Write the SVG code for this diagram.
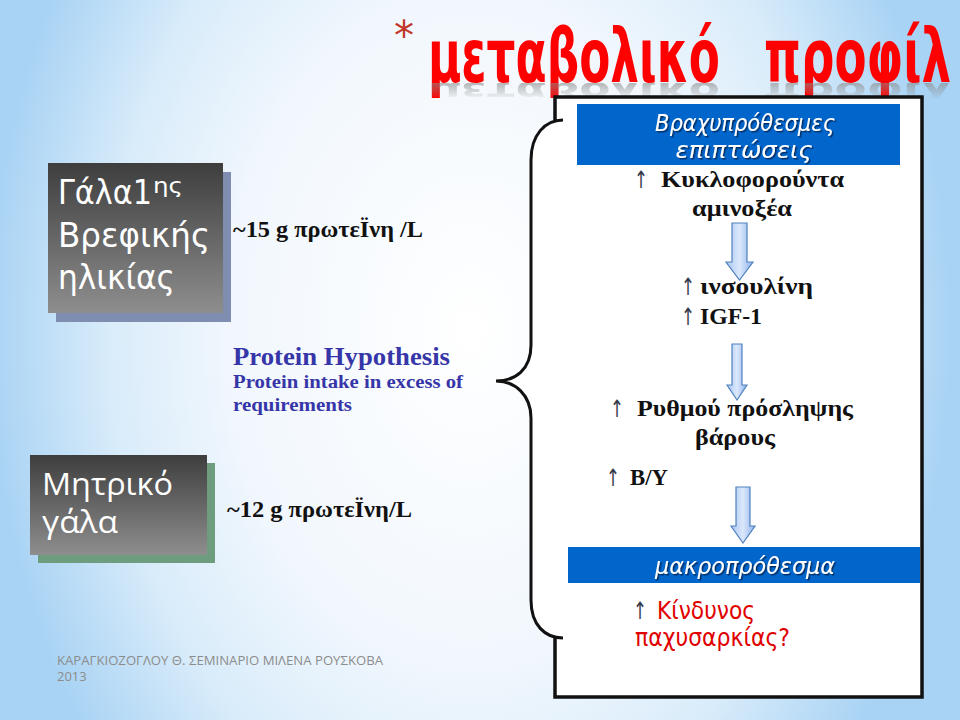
<svg xmlns="http://www.w3.org/2000/svg" width="960" height="720" viewBox="0 0 960 720">
<defs>
<radialGradient id="bg" gradientUnits="userSpaceOnUse" cx="470" cy="330" r="480" gradientTransform="translate(470 330) scale(1 1.4) translate(-470 -330)">
<stop offset="0" stop-color="#ffffff"/>
<stop offset="0.5" stop-color="#f1f7fd"/>
<stop offset="0.75" stop-color="#d9ecfa"/>
<stop offset="1" stop-color="#a9d3f4"/>
</radialGradient>
<linearGradient id="dark" x1="0" y1="0" x2="0" y2="1">
<stop offset="0" stop-color="#3e3e3e"/>
<stop offset="1" stop-color="#8e8e8e"/>
</linearGradient>
<linearGradient id="barrow" x1="0" y1="0" x2="1" y2="0">
<stop offset="0" stop-color="#a9c6f3"/>
<stop offset="0.5" stop-color="#dbe8fb"/>
<stop offset="1" stop-color="#8fb2ec"/>
</linearGradient>
<linearGradient id="reflfade" gradientUnits="userSpaceOnUse" x1="0" y1="83" x2="0" y2="100">
<stop offset="0" stop-color="#fff" stop-opacity="0.6"/>
<stop offset="1" stop-color="#fff" stop-opacity="0"/>
</linearGradient>
<mask id="reflmask" maskUnits="userSpaceOnUse" x="380" y="83" width="580" height="17">
<rect x="380" y="83" width="580" height="17" fill="url(#reflfade)"/>
</mask>
<filter id="tshadow" x="-10%" y="-20%" width="120%" height="150%">
<feDropShadow dx="1.5" dy="1.5" stdDeviation="0.6" flood-color="#002a5c" flood-opacity="0.9"/>
</filter>
</defs>
<style>
.serif{font-family:"Liberation Serif","DejaVu Serif",serif;font-weight:bold;fill:#111;}
.up{font-family:"DejaVu Sans",sans-serif;fill:#333848;}
.bar{fill:#0066cc;}
.bartxt{font-family:"DejaVu Sans",sans-serif;font-style:italic;fill:#fff;font-size:23px;text-anchor:middle;}
.ph{font-family:"Liberation Serif","DejaVu Serif",serif;font-weight:bold;fill:#3636a8;}
.blk{fill:url(#barrow);stroke:#4f81bd;stroke-width:1.2;}
.title{font-family:"DejaVu Sans",sans-serif;font-weight:bold;fill:#ff0000;}
.refl{font-family:"DejaVu Sans",sans-serif;font-weight:bold;fill:#8a8a8a;}
</style>

<rect x="0" y="0" width="960" height="720" fill="url(#bg)"/>

<g id="title">
<text x="394" y="50" font-family="DejaVu Sans, sans-serif" font-size="40" fill="#c0392b">*</text>
<text class="title" x="428" y="82" font-size="74" textLength="292" lengthAdjust="spacingAndGlyphs">μεταβολικό</text>
<text class="title" x="764" y="82" font-size="74" textLength="187" lengthAdjust="spacingAndGlyphs">προφίλ</text>
<g mask="url(#reflmask)">
<g transform="translate(0 111) scale(1 -0.35)">
<text class="refl" x="428" y="82" font-size="74" textLength="292" lengthAdjust="spacingAndGlyphs">μεταβολικό</text>
<text class="refl" x="764" y="82" font-size="74" textLength="187" lengthAdjust="spacingAndGlyphs">προφίλ</text>
</g>
</g>
</g>

<g id="node-gala1">
<rect x="56" y="172" width="175" height="150" fill="#7e8db0"/>
<rect x="48" y="163" width="175" height="150" fill="url(#dark)"/>
<text x="58" y="204" font-family="DejaVu Sans, sans-serif" font-size="34" fill="#fff" textLength="94" lengthAdjust="spacingAndGlyphs">Γάλα1</text>
<text x="153" y="193" font-family="DejaVu Sans, sans-serif" font-size="21" fill="#fff" textLength="30" lengthAdjust="spacingAndGlyphs">ης</text>
<text x="58" y="247" font-family="DejaVu Sans, sans-serif" font-size="34" fill="#fff" textLength="152" lengthAdjust="spacingAndGlyphs">Βρεφικής</text>
<text x="58" y="289" font-family="DejaVu Sans, sans-serif" font-size="34" fill="#fff" textLength="117" lengthAdjust="spacingAndGlyphs">ηλικίας</text>
</g>

<g id="node-mitriko">
<rect x="38" y="463" width="177" height="100" fill="#6e9c7e"/>
<rect x="30" y="455" width="177" height="100" fill="url(#dark)"/>
<text x="42" y="495" font-family="Open Sans, sans-serif" font-size="31" fill="#fff" textLength="131" lengthAdjust="spacingAndGlyphs">Μητρικό</text>
<text x="42" y="533" font-family="Open Sans, sans-serif" font-size="31" fill="#fff" textLength="76" lengthAdjust="spacingAndGlyphs">γάλα</text>
</g>

<g id="node-15g">
<text class="serif" x="233" y="237" font-size="23" textLength="190" lengthAdjust="spacingAndGlyphs">~15 g πρωτεΪνη /L</text>
</g>

<g id="node-hypothesis">
<text class="ph" x="233" y="365" font-size="25" textLength="217" lengthAdjust="spacingAndGlyphs">Protein Hypothesis</text>
<text class="ph" x="233" y="388" font-size="18" textLength="230" lengthAdjust="spacingAndGlyphs">Protein intake in excess of</text>
<text class="ph" x="233" y="411" font-size="18" textLength="119" lengthAdjust="spacingAndGlyphs">requirements</text>
</g>

<g id="node-12g">
<text class="serif" x="227" y="517" font-size="23" textLength="185" lengthAdjust="spacingAndGlyphs">~12 g πρωτεΪνη/L</text>
</g>

<g id="node-box">
<path d="M555,97 H922 V697 H555 V638 H563 C545,638 531,625 531,600 V418 C531,395 515,381 496,381 C515,381 531,370 531,345 V160 C531,135 545,120 563,120 H555 Z" fill="#ffffff"/>
<path d="M555,120 V97 H922 V697 H555 V638" fill="none" stroke="#111" stroke-width="3.5"/>
<path d="M563,120 C545,120 531,135 531,160 V345 C531,370 515,381 496,381 C515,381 531,395 531,418 V600 C531,625 545,638 563,638" fill="none" stroke="#111" stroke-width="3"/>
</g>

<g id="node-short">
<rect class="bar" x="577" y="104" width="323" height="61"/>
<g filter="url(#tshadow)">
<text class="bartxt" x="745" y="131" textLength="180" lengthAdjust="spacingAndGlyphs">Βραχυπρόθεσμες</text>
<text class="bartxt" x="744" y="158" textLength="137" lengthAdjust="spacingAndGlyphs">επιπτώσεις</text>
</g>
</g>

<g id="node-amino">
<text class="up" x="634" y="188" font-size="24" textLength="14" lengthAdjust="spacingAndGlyphs">↑</text>
<text class="serif" x="661" y="187" font-size="24" textLength="183" lengthAdjust="spacingAndGlyphs">Κυκλοφορούντα</text>
<text class="serif" x="692" y="216" font-size="24" textLength="100" lengthAdjust="spacingAndGlyphs">αμινοξέα</text>
</g>

<g id="node-insulin">
<text class="up" x="681" y="295" font-size="24" textLength="14" lengthAdjust="spacingAndGlyphs">↑</text>
<text class="serif" x="700" y="294" font-size="24" textLength="113" lengthAdjust="spacingAndGlyphs">ινσουλίνη</text>
<text class="up" x="681" y="325" font-size="24" textLength="14" lengthAdjust="spacingAndGlyphs">↑</text>
<text class="serif" x="700" y="324" font-size="24" textLength="62" lengthAdjust="spacingAndGlyphs">IGF-1</text>
</g>

<g id="node-weight">
<text class="up" x="610" y="417" font-size="24" textLength="14" lengthAdjust="spacingAndGlyphs">↑</text>
<text class="serif" x="637" y="416" font-size="24" textLength="216" lengthAdjust="spacingAndGlyphs">Ρυθμού πρόσληψης</text>
<text class="serif" x="695" y="445" font-size="24" textLength="80" lengthAdjust="spacingAndGlyphs">βάρους</text>
</g>

<g id="node-by">
<text class="up" x="606" y="486" font-size="24" textLength="14" lengthAdjust="spacingAndGlyphs">↑</text>
<text class="serif" x="630" y="485" font-size="24" textLength="38" lengthAdjust="spacingAndGlyphs">B/Y</text>
</g>

<g id="node-long">
<rect class="bar" x="568" y="547" width="352" height="36"/>
<text class="bartxt" x="745" y="574" filter="url(#tshadow)" textLength="180" lengthAdjust="spacingAndGlyphs">μακροπρόθεσμα</text>
</g>

<g id="node-risk">
<text class="up" x="633" y="619" font-size="24" textLength="14" lengthAdjust="spacingAndGlyphs">↑</text>
<text x="657" y="619" font-family="DejaVu Sans, sans-serif" font-size="24" fill="#e00000" textLength="98" lengthAdjust="spacingAndGlyphs">Κίνδυνος</text>
<text x="635" y="646" font-family="DejaVu Sans, sans-serif" font-size="24" fill="#e00000" textLength="155" lengthAdjust="spacingAndGlyphs">παχυσαρκίας?</text>
</g>

<g id="connectors">
<path class="blk" d="M732,223 H747 V262 H753 L739.5,280 L726,262 H732 Z"/>
<path class="blk" d="M732,344 H742 V385 H747 L737,400 L727,385 H732 Z"/>
<path class="blk" d="M736,487 H750 V526 H755 L743,543 L731,526 H736 Z"/>
</g>

<g id="footer">
<text x="57" y="665" font-family="Open Sans, sans-serif" font-size="13" fill="#8c8c8c" textLength="326" lengthAdjust="spacingAndGlyphs">ΚΑΡΑΓΚΙΟΖΟΓΛΟΥ Θ. ΣΕΜΙΝΑΡΙΟ ΜΙΛΕΝΑ ΡΟΥΣΚΟΒΑ</text>
<text x="57" y="681" font-family="Open Sans, sans-serif" font-size="13" fill="#8c8c8c">2013</text>
</g>
</svg>
